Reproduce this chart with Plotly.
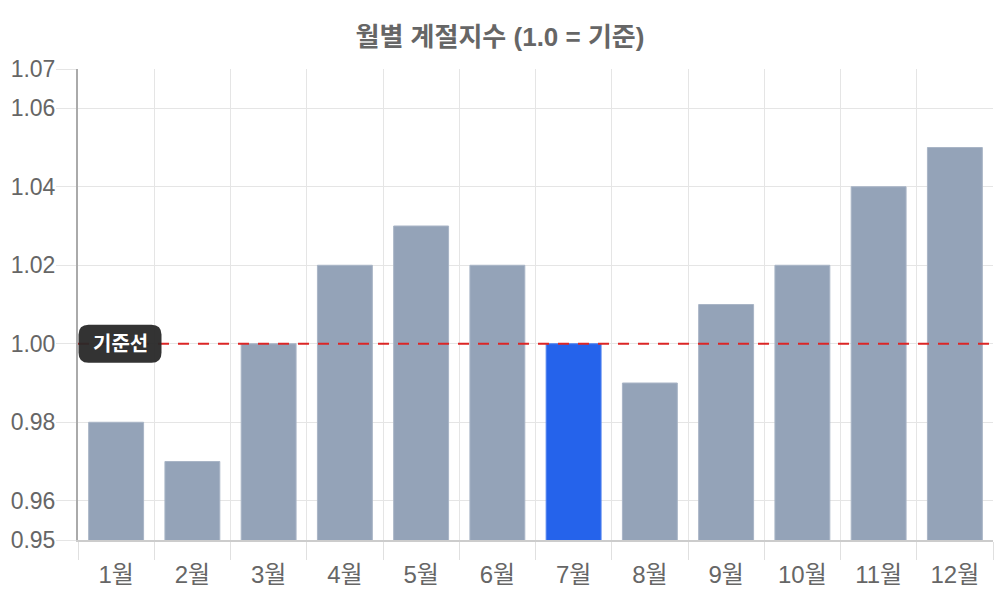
import plotly.graph_objects as go

months = ["1월", "2월", "3월", "4월", "5월", "6월", "7월", "8월", "9월", "10월", "11월", "12월"]
index_values = [0.98, 0.97, 1.00, 1.02, 1.03, 1.02, 1.00, 0.99, 1.01, 1.02, 1.04, 1.05]
highlight_month = "7월"
baseline = 1.0
y_ticks = [0.95, 0.96, 0.98, 1.00, 1.02, 1.04, 1.06, 1.07]
y_range = [0.95, 1.07]

base_color = "#94a3b8"
base_edge = "#a9b5c6"
hi_color = "#2563eb"
hi_edge = "#4f82ee"
FONT = "Liberation Sans, Arial, Noto Sans CJK KR, sans-serif"

colors = [hi_color if m == highlight_month else base_color for m in months]
edges = [hi_edge if m == highlight_month else base_edge for m in months]

fig = go.Figure(go.Bar(
    x=months, y=index_values,
    marker=dict(color=colors, line=dict(color=edges, width=1)),
    hoverinfo="x+y",
))

fig.add_shape(type="line", xref="paper", x0=0, x1=1, yref="y", y0=baseline, y1=baseline,
              line=dict(color="#dc2626", width=2, dash="11px,9px"), layer="above")

# rounded label box (pixel-sized, converted to paper/data units)
plot_w = 1000 - 78 - 7
plot_h = 600 - 69 - 60
px_x = 1.0 / plot_w
px_y = (y_range[1] - y_range[0]) / plot_h
cx, w, h, r = 42 * px_x, 83, 38, 10
x0, x1 = cx - w / 2 * px_x, cx + w / 2 * px_x
y0, y1 = baseline - h / 2 * px_y, baseline + h / 2 * px_y
rx, ry = r * px_x, r * px_y
path = (f"M {x0+rx},{y0} L {x1-rx},{y0} Q {x1},{y0} {x1},{y0+ry} L {x1},{y1-ry} "
        f"Q {x1},{y1} {x1-rx},{y1} L {x0+rx},{y1} Q {x0},{y1} {x0},{y1-ry} "
        f"L {x0},{y0+ry} Q {x0},{y0} {x0+rx},{y0} Z")
fig.add_shape(type="path", xref="paper", yref="y", path=path,
              fillcolor="rgba(40,40,40,0.95)", line=dict(width=0), layer="above")
fig.add_annotation(x=cx, xref="paper", xanchor="center", y=baseline, yref="y",
                   yanchor="middle", text="<b>기준선</b>",
                   showarrow=False, font=dict(family=FONT, size=20, color="white"))

fig.update_layout(
    width=1000, height=600,
    margin=dict(l=78, r=7, t=69, b=60),
    paper_bgcolor="white", plot_bgcolor="white",
    title=dict(text="<b>월별 계절지수 (1.0 = 기준)</b>", x=0.5, xanchor="center",
               y=1 - 37 / 600, yanchor="middle",
               font=dict(family=FONT, size=26, color="#666666")),
    bargap=0.28,
    showlegend=False,
    font=dict(family=FONT, size=24, color="#666666"),
)
fig.update_xaxes(type="category", tickson="boundaries", ticks="outside", ticklen=18,
                 tickcolor="#e0e0e0", showgrid=True, gridcolor="#e5e5e5",
                 showline=True, linecolor="#cccccc", linewidth=2,
                 ticklabelstandoff=12,
                 tickfont=dict(family=FONT, size=24, color="#666666"))
fig.update_yaxes(range=y_range, tickvals=y_ticks, ticktext=[f"{v:.2f}" for v in y_ticks],
                 ticks="outside", ticklen=20, tickcolor="#e5e5e5",
                 showgrid=True, gridcolor="#e5e5e5", zeroline=False,
                 showline=True, linecolor="#aaaaaa", linewidth=2,
                 ticklabelstandoff=-4,
                 tickfont=dict(family=FONT, size=23, color="#666666"))

fig.write_html("out.html")
